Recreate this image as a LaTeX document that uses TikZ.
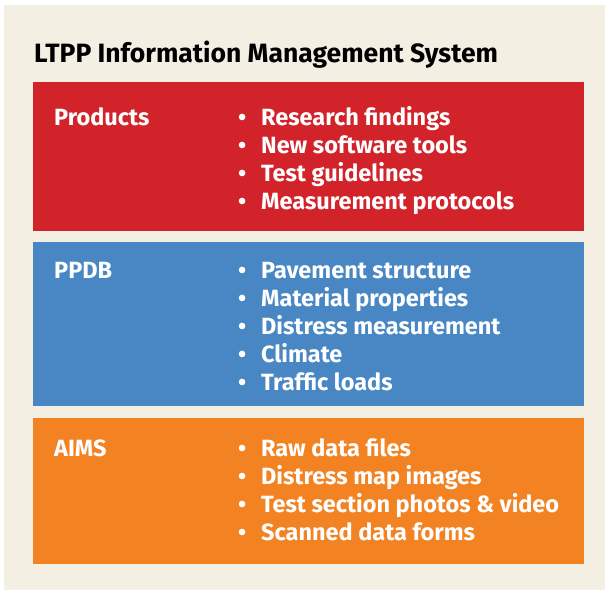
\documentclass[tikz,border=0pt]{standalone}
\usepackage{fontspec}
\setmainfont{Fira Sans}
\definecolor{bgbeige}{RGB}{243,240,227}
\definecolor{ltppred}{RGB}{210,35,42}
\definecolor{ltppblue}{RGB}{72,135,195}
\definecolor{ltpporange}{RGB}{243,131,34}
\newcommand{\bul}{\makebox[23pt][l]{\textbullet}}
\begin{document}
\begin{tikzpicture}[
        x=1pt, y=-1pt,
        band/.style={rectangle, inner sep=0pt, anchor=north west, minimum width=551pt},
        head/.style={anchor=base west, inner sep=0pt, text=white, font=\fontsize{23.5}{28}\selectfont\bfseries},
        items/.style={anchor=base west, inner sep=0pt, text=white, align=left, font=\fontsize{23.5}{28}\selectfont\bfseries}
    ]
        \useasboundingbox (0,0) rectangle (605,590);
        \fill[bgbeige] (4,5) rectangle (605,590);

        % Title
        \node[anchor=base west, inner sep=0pt, font=\fontsize{26.5}{32}\selectfont\bfseries] (title) at (34,62) {LTPP Information Management System};

        % Coloured bands
        \node[band, fill=ltppred, minimum height=149pt] (products) at (33,82) {};
        \node[band, fill=ltppblue, minimum height=164pt] (ppdb) at (33,242) {};
        \node[band, fill=ltpporange, minimum height=146pt] (aims) at (33,418) {};

        % Band headings
        \node[head] (productshead) at (54,125) {Products};
        \node[head] (ppdbhead) at (54,278) {PPDB};
        \node[head] (aimshead) at (54,456) {AIMS};

        % Bullet lists (placed at the baseline of the last line)
        \node[items] (productslist) at (238,209) {\bul Research findings\\
            \bul New software tools\\
            \bul Test guidelines\\
            \bul Measurement protocols};
        \node[items] (ppdblist) at (238,390) {\bul Pavement structure\\
            \bul Material properties\\
            \bul Distress measurement\\
            \bul Climate\\
            \bul Traffic loads};
        \node[items] (aimslist) at (238,540) {\bul Raw data files\\
            \bul Distress map images\\
            \bul Test section photos \& video\\
            \bul Scanned data forms};

    \end{tikzpicture}
\end{document}
